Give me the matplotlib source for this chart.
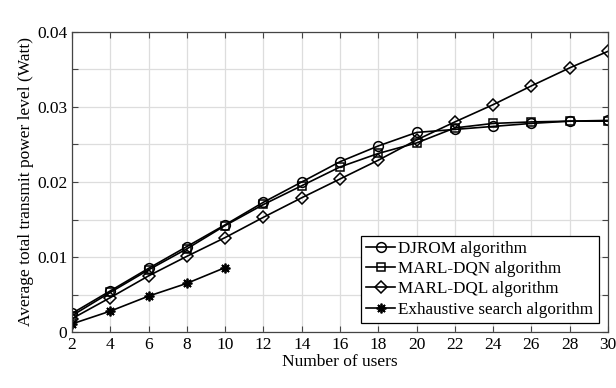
import matplotlib
matplotlib.use("Agg")
from matplotlib import pyplot as plt
import numpy as np

users = [2, 4, 6, 8, 10, 12, 14, 16, 18, 20, 22, 24, 26, 28, 30]
djrom = [0.0025, 0.0055, 0.0085, 0.0114, 0.0143, 0.0173, 0.0200, 0.0227, 0.0248, 0.0266,
         0.0270, 0.0274, 0.0278, 0.0281, 0.0282]
dqn = [0.0022, 0.0053, 0.0083, 0.0111, 0.0142, 0.0170, 0.0195, 0.0220, 0.0238, 0.0252,
       0.0272, 0.0278, 0.0280, 0.0281, 0.0281]
dql = [0.0018, 0.0046, 0.0075, 0.0101, 0.0126, 0.0153, 0.0179, 0.0204, 0.0229, 0.0256,
       0.0280, 0.0303, 0.0328, 0.0352, 0.0374]
users_es = [2, 4, 6, 8, 10]
exhaustive = [0.0011, 0.0028, 0.0048, 0.0065, 0.0086]

plt.rcParams['font.family'] = ['Liberation Serif', 'DejaVu Serif']

fig = plt.figure(figsize=(6.16, 3.88), dpi=100)
ax = fig.add_axes([0.117, 0.144, 0.870, 0.774])

kw = dict(color="black", linewidth=1.2, markerfacecolor="none", markeredgecolor="black",
          markeredgewidth=1.1)
ax.plot(users, djrom, marker="o", markersize=7, label="DJROM algorithm", **kw)
ax.plot(users, dqn, marker="s", markersize=6, label="MARL-DQN algorithm", **kw)
ax.plot(users, dql, marker="D", markersize=6, label="MARL-DQL algorithm", **kw)
ax.plot(users_es, exhaustive, marker=(8, 2, 0), markersize=7, color="black", linewidth=1.2,
        markeredgewidth=1.3, label="Exhaustive search algorithm")

ax.set_xlim(2, 30)
ax.set_ylim(0, 0.04)
ax.set_xticks(np.arange(2, 31, 2))
yt = np.arange(0, 0.0401, 0.005)
ax.set_yticks(yt)
ax.set_yticklabels(["0" if v == 0 else ("%g" % round(v, 3) if i % 2 == 0 else "") for i, v in enumerate(yt)])
ax.grid(True, color="#dddddd", linewidth=0.9)
ax.set_axisbelow(True)
ax.tick_params(direction="in", top=True, right=True, labelsize=12.5, length=4, color="#444444")
for s in ax.spines.values():
    s.set_color("#444444")
    s.set_linewidth(0.9)

ax.set_xlabel("Number of users", fontsize=12.5, labelpad=1)
ax.set_ylabel("Average total transmit power level (Watt)", fontsize=12.5, labelpad=2)

leg = ax.legend(loc="lower right", fontsize=12.3, frameon=True, fancybox=False,
                edgecolor="black", framealpha=1, handlelength=1.7, handletextpad=0.2,
                borderpad=0.3, labelspacing=0.25, borderaxespad=0.55)
leg.get_frame().set_linewidth(0.9)

plt.savefig("out.png", dpi=100)
